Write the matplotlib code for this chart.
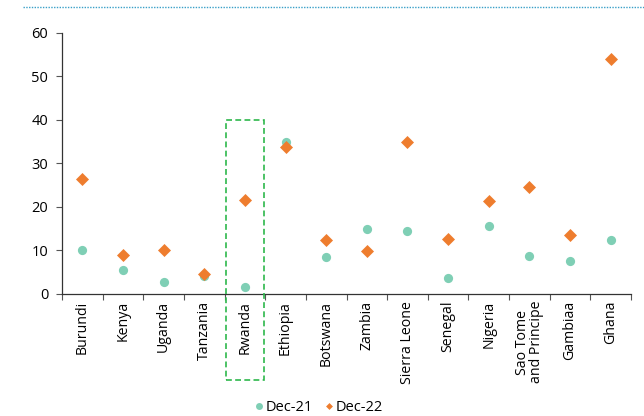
import matplotlib
matplotlib.use("Agg")
import matplotlib.pyplot as plt
from matplotlib.patches import Rectangle
from matplotlib.lines import Line2D
import numpy as np

plt.rcParams['font.family'] = ['Open Sans', 'DejaVu Sans']

countries = ["Burundi", "Kenya", "Uganda", "Tanzania", "Rwanda", "Ethiopia",
             "Botswana", "Zambia", "Sierra Leone", "Senegal", "Nigeria",
             "Sao Tome\nand Principe", "Gambiaa", "Ghana"]
dec21 = [10.0, 5.5, 2.8, 4.1, 1.7, 35.0, 8.4, 15.0, 14.5, 3.7, 15.6, 8.7, 7.5, 12.4]
dec22 = [26.5, 8.9, 10.1, 4.6, 21.5, 33.7, 12.3, 9.8, 35.0, 12.7, 21.3, 24.5, 13.6, 54.0]

teal = "#7fcfb5"
orange = "#ee7d2e"

fig = plt.figure(figsize=(6.44, 4.16), dpi=100)
ax = fig.add_axes([0.0963, 0.2933, 0.8835, 0.6274])

x = np.arange(len(countries))
ax.scatter(x, dec21, s=44, marker="o", color=teal, zorder=3, linewidths=0)
ax.scatter(x, dec22, s=44, marker="D", color=orange, zorder=3, linewidths=0)

ax.set_xlim(-0.5, len(countries) - 0.5)
ax.set_ylim(0, 60)
ax.set_yticks(range(0, 61, 10))

# tick marks sit between categories, labels at the centres
ax.set_xticks(np.arange(-0.5, len(countries), 1.0))
ax.set_xticklabels([])
ax.set_xticks(x, minor=True)
ax.set_xticklabels(countries, minor=True, rotation=90, fontsize=10.2,
                   linespacing=0.95, va="top")
ax.tick_params(axis="x", which="minor", length=0, pad=5)
ax.tick_params(axis="x", which="major", length=4, color="#555555")
ax.tick_params(axis="y", length=4, color="#555555", labelsize=10.5, pad=6)

for s in ["top", "right"]:
    ax.spines[s].set_visible(False)
for s in ["left", "bottom"]:
    ax.spines[s].set_color("#333333")
    ax.spines[s].set_linewidth(0.9)

# highlight Rwanda
rw = countries.index("Rwanda")
box = Rectangle((rw - 0.47, -19.8), 0.94, 59.8, fill=False, ls=(0, (3.5, 2)),
                lw=1.2, edgecolor="#2db84c", clip_on=False, zorder=4)
ax.add_patch(box)

handles = [Line2D([], [], ls="none", marker="o", ms=5, color=teal, mec="none"),
           Line2D([], [], ls="none", marker="D", ms=3.5, color=orange, mec="none")]
fig.legend(handles, ["Dec-21", "Dec-22"], loc="lower center",
           bbox_to_anchor=(0.495, -0.03), ncol=2, frameon=False, fontsize=10.5,
           handlelength=0.6, handletextpad=0.15, columnspacing=0.8)

# dotted rule along the top
fig.add_artist(Line2D([0.035, 1.0], [0.983, 0.983], transform=fig.transFigure,
                      color="#3aa0c8", lw=1.0, ls=(0, (1, 1))))

fig.savefig("out.png", dpi=100)
